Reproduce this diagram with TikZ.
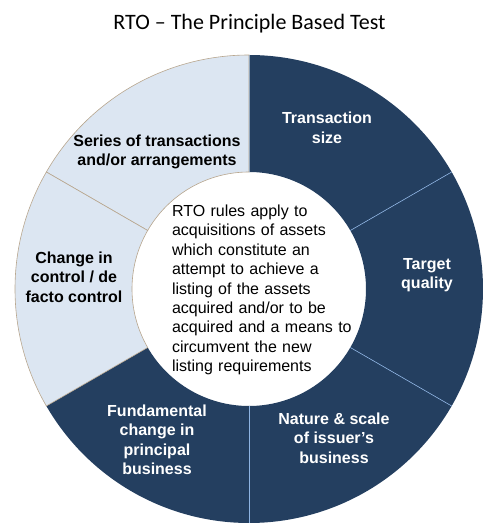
\documentclass[tikz,border=0pt]{standalone}
\usepackage{fontspec}
\setmainfont{Liberation Sans}
\newfontfamily\titlefont[Ligatures=TeX]{Carlito}
\usepackage{tikz}
\usetikzlibrary{positioning}

\definecolor{navyseg}{HTML}{243F60}
\definecolor{paleseg}{HTML}{DCE6F2}
\definecolor{tanline}{HTML}{B8A68E}
\definecolor{greyline}{HTML}{8FA3B8}
\definecolor{sepline}{HTML}{8EB4E3}

\begin{document}
\begin{tikzpicture}[
  x=1pt, y=1pt,
  darkseg/.style={fill=navyseg, draw=none},
  lightseg/.style={fill=paleseg, draw=tanline, line width=0.6pt},
  sep/.style={draw=sepline, line width=0.6pt},
  seglabel/.style={
    font=\fontsize{16}{19.5}\selectfont\bfseries,
    align=center, inner sep=0pt
  },
  darklabel/.style={seglabel, text=white},
  lightlabel/.style={seglabel, text=black},
  rulestext/.style={
    font=\fontsize{16}{19.4}\selectfont, align=left,
    text width=180pt, inner sep=0pt
  }
]
\useasboundingbox (0,0) rectangle (500,531);

% Title
\node[font=\titlefont\fontsize{22}{26}\selectfont, anchor=base] (title) at (249.5,501) {RTO – The Principle Based Test};

% Ring segments
\begin{scope}[shift={(249,242)}]
  \foreach \a/\b in {-90/-30, -30/30, 30/90, 210/270}
    \path[darkseg] (\a:117) -- (\a:234) arc[start angle=\a, end angle=\b, radius=234]
      -- (\b:117) arc[start angle=\b, end angle=\a, radius=117] -- cycle;
  \foreach \a/\b in {90/150, 150/210}
    \path[lightseg] (\a:117) -- (\a:234) arc[start angle=\a, end angle=\b, radius=234]
      -- (\b:117) arc[start angle=\b, end angle=\a, radius=117] -- cycle;

  % Separators between dark segments
  \foreach \a in {-90, -30, 30}
    \draw[sep] (\a:117) -- (\a:234);
  \draw[greyline, line width=0.6pt] (90:117) -- (90:234);
\end{scope}

% Segment labels
\node[darklabel] (size) at (327,403) {Transaction\\size};
\node[darklabel] (quality) at (427,256) {Target\\quality};
\node[darklabel] (nature) at (334,93) {Nature \& scale\\of issuer’s\\business};
\node[darklabel] (fundamental) at (157,91) {Fundamental\\change in\\principal\\business};
\node[lightlabel] (control) at (74,254) {Change in\\control / de\\facto control};
\node[lightlabel] (series) at (157,379) {Series of transactions\\and/or arrangements};

% Centre text
\node[rulestext] (rules) at (262,241) {RTO rules apply to\\acquisitions of assets\\which constitute an\\attempt to achieve a\\listing of the assets\\acquired and/or to be\\acquired and a means to\\circumvent the new\\listing requirements};

\end{tikzpicture}
\end{document}
